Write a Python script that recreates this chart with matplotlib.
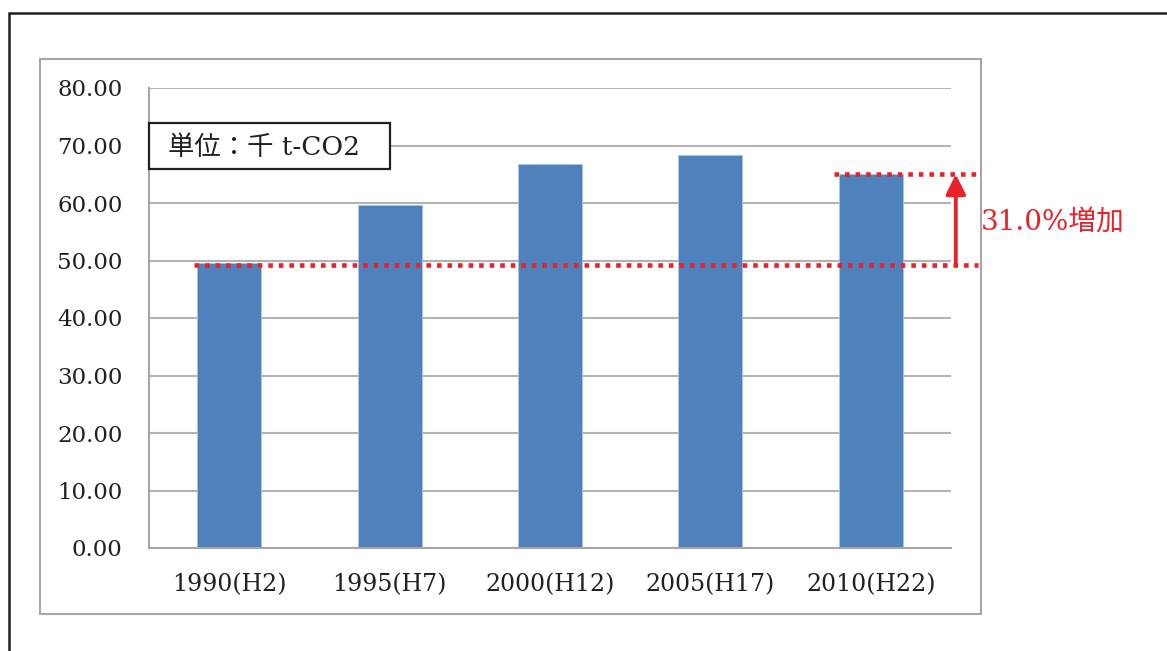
import matplotlib.pyplot as plt
from matplotlib.patches import Rectangle

# データ
categories = ['1990(H2)', '1995(H7)', '2000(H12)', '2005(H17)', '2010(H22)']
values = [49.6, 59.7, 66.7, 68.4, 65.0]
yticks = [0, 10, 20, 30, 40, 50, 60, 70, 80]
unit_label = '単位：千 t-CO2'
increase_label = '31.0%増加'

bar_color = '#4f81bd'
red = '#e8222a'
serif = ['DejaVu Serif', 'Noto Sans CJK JP']

fig = plt.figure(figsize=(11.67, 6.51), dpi=100)
W, H = 1167, 651

# 外枠
fig.patches.append(Rectangle((9 / W, -0.1), 1.2, 1 - 13 / H + 0.1,
                             transform=fig.transFigure, fill=False,
                             edgecolor='#231f20', lw=1.8))
fig.patches.append(Rectangle((40 / W, 1 - 614 / H), (981 - 40) / W, (614 - 59) / H,
                             transform=fig.transFigure, fill=False,
                             edgecolor='#a6a6a6', lw=1.5))

ax = fig.add_axes([149 / W, 1 - 548 / H, (951 - 149) / W, (548 - 88) / H])
x = list(range(len(categories)))
width = 0.4
ax.bar(x, values, width=width, color=bar_color, edgecolor='#a9c4e6', lw=0.6, zorder=2)

ax.set_xlim(-0.5, len(categories) - 0.5)
ax.set_ylim(0, 80)
ax.set_yticks(yticks)
ax.set_yticklabels([f'{v:.2f}' for v in yticks], family=serif, fontsize=16.5, color='#231f20')
ax.set_xticks(x)
ax.set_xticklabels(categories, family=serif, fontsize=17, color='#231f20')
ax.tick_params(axis='y', length=0, pad=19)
ax.tick_params(axis='x', length=0, pad=18)
ax.yaxis.grid(True, color='#b3b3b3', lw=1.5, zorder=0)
ax.set_axisbelow(True)
for s in ['top', 'right']:
    ax.spines[s].set_visible(False)
for s in ['left', 'bottom']:
    ax.spines[s].set_color('#a6a6a6')
    ax.spines[s].set_linewidth(1.5)

# 単位ラベル（枠付き）
ytr = ax.get_yaxis_transform()
ax.add_patch(Rectangle((0, 65.9), 0.3005, 8.0, transform=ytr, facecolor='white',
                       edgecolor='#231f20', lw=1.6, zorder=5, clip_on=False))
ax.text(0.024, 69.6, unit_label, transform=ytr,
        family=serif, fontsize=19, color='#231f20', va='center', ha='left', zorder=6)

# 増加の補助線と矢印
base, last = values[0], values[-1]
n = len(categories)
dot = dict(color=red, lw=3.3, linestyle=(0, (1, 1.3)), dash_capstyle='butt',
           clip_on=False, zorder=4)
ax.plot([0 - width / 2 - 0.02, n - 1 + 0.67], [base - 0.4, base - 0.4], **dot)
ax.plot([n - 1 - width / 2 - 0.03, n - 1 + 0.67], [last, last], **dot)
ax.annotate('', xy=(n - 1 + 0.53, last), xytext=(n - 1 + 0.53, base - 0.4),
            arrowprops=dict(arrowstyle='-|>', color=red, lw=2.8, mutation_scale=30,
                            shrinkA=0, shrinkB=0),
            annotation_clip=False, zorder=4)
ax.text(n - 1 + 0.685, (base + last) / 2 - 0.8, increase_label, family=serif, fontsize=20,
        color=red, va='center', ha='left', clip_on=False,
        bbox=dict(boxstyle='square,pad=0.15', facecolor='white', edgecolor='none'))

fig.savefig('out.png', dpi=100)
